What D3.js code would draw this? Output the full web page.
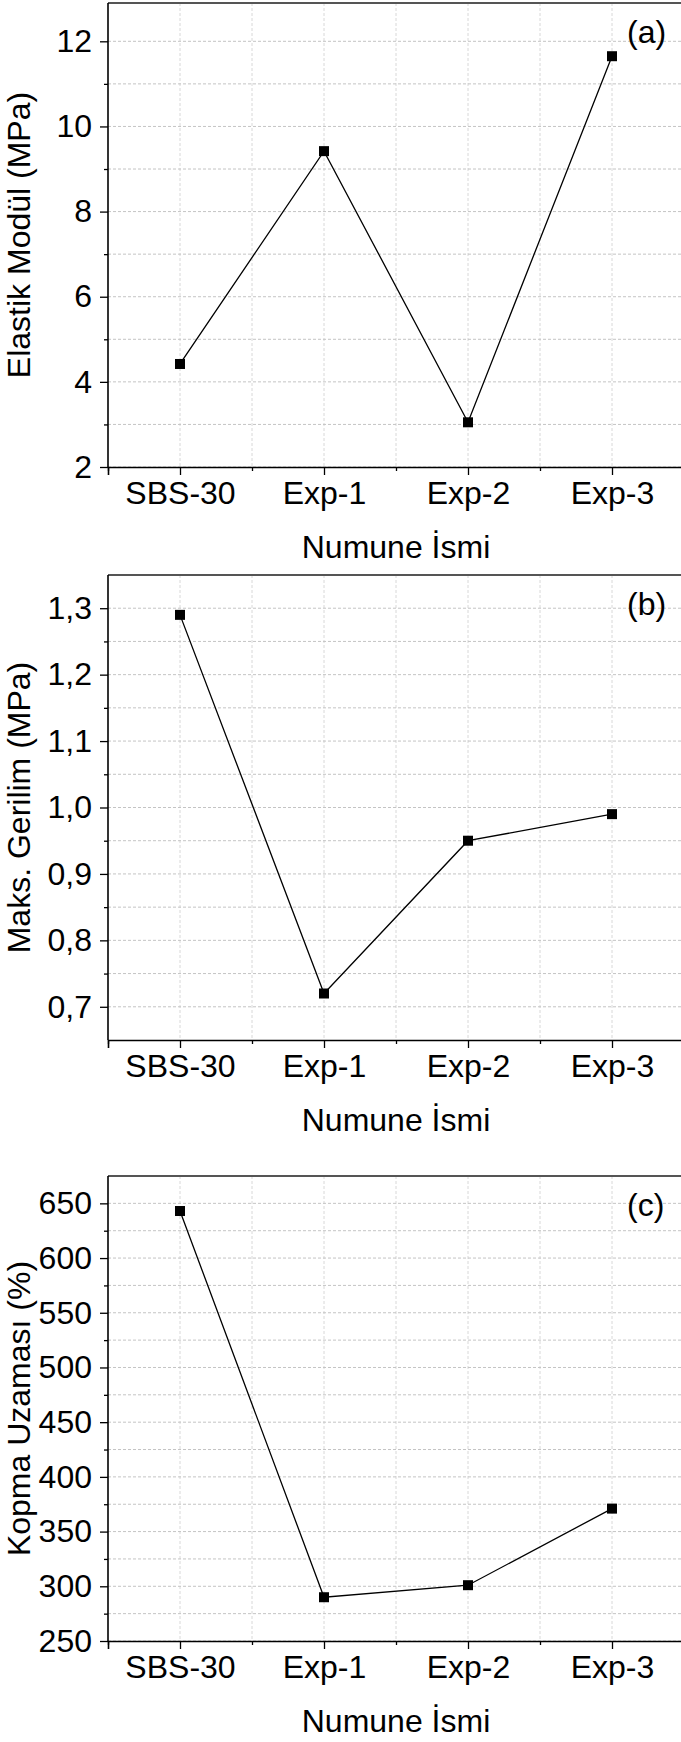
<!DOCTYPE html>
<html>
  <head>
    <meta charset="utf-8">
    <title>Numune özellikleri</title>
    <style>
      body { margin: 0; background: #fff; }
      text { font-family: "Liberation Sans", Arial, sans-serif; fill: #000; }
    </style>
  </head>
  <body>
    <div id="vis"></div>
    <script src="https://d3js.org/d3.v7.min.js"></script>
    <script>
    // sample names on the x axis
    let samples = ["SBS-30", "Exp-1", "Exp-2", "Exp-3"];

    // panel (a) elastic modulus, MPa
    let elastik = [4.42, 9.42, 3.05, 11.65];
    let elastikTicks = [2, 4, 6, 8, 10, 12];
    let elastikMinor = [3, 5, 7, 9, 11];

    // panel (b) max stress, MPa
    let gerilim = [1.29, 0.72, 0.95, 0.99];
    let gerilimTicks = [0.7, 0.8, 0.9, 1.0, 1.1, 1.2, 1.3];
    let gerilimMinor = [0.75, 0.85, 0.95, 1.05, 1.15, 1.25];

    // panel (c) elongation at break, %
    let uzama = [643, 290, 301, 371];
    let uzamaTicks = [250, 300, 350, 400, 450, 500, 550, 600, 650];
    let uzamaMinor = [275, 325, 375, 425, 475, 525, 575, 625];

    let w = 681, h = 1742;
    let left = 108, right = 684;

    let svg = d3.select("#vis").append("svg")
                .attr("width", w)
                .attr("height", h);

    let x = d3.scaleLinear().domain([0.5, 4.5]).range([left, right]);
    let xMajor = [1, 2, 3, 4];
    let xMinor = [0.5, 1.5, 2.5, 3.5, 4.5];

    let comma = function(d) { return d3.format(".1f")(d).replace(".", ","); };

    let panels = [
      { top: 3, bottom: 467, domain: [2, 12.9], values: elastik, ticks: elastikTicks, minor: elastikMinor,
        fmt: d3.format("d"), ylabel: "Elastik Modül (MPa)", tag: "(a)" },
      { top: 575, bottom: 1040, domain: [0.65, 1.35], values: gerilim, ticks: gerilimTicks, minor: gerilimMinor,
        fmt: comma, ylabel: "Maks. Gerilim (MPa)", tag: "(b)" },
      { top: 1176, bottom: 1641, domain: [250, 675], values: uzama, ticks: uzamaTicks, minor: uzamaMinor,
        fmt: d3.format("d"), ylabel: "Kopma Uzaması (%)", tag: "(c)" }
    ];

    panels.forEach(function(p) {
      let y = d3.scaleLinear().domain(p.domain).range([p.bottom, p.top]);
      let g = svg.append("g");

      // vertical grid
      g.selectAll(".vgrid")
        .data(xMajor.concat(xMinor.slice(1)))
        .enter().append("line")
        .attr("x1", function(d) { return x(d); })
        .attr("x2", function(d) { return x(d); })
        .attr("y1", p.top)
        .attr("y2", p.bottom)
        .style("stroke", "#d8d8d8")
        .style("stroke-width", 1)
        .style("stroke-dasharray", "3,2");

      // horizontal grid
      g.selectAll(".hgrid")
        .data(p.ticks.concat(p.minor))
        .enter().append("line")
        .attr("x1", left)
        .attr("x2", right)
        .attr("y1", function(d) { return y(d); })
        .attr("y2", function(d) { return y(d); })
        .style("stroke", "#c4c4c4")
        .style("stroke-width", 1)
        .style("stroke-dasharray", "3,2");

      // top frame
      g.append("line")
        .attr("x1", left).attr("x2", right)
        .attr("y1", p.top).attr("y2", p.top)
        .style("stroke", "#555")
        .style("stroke-width", 2);

      // y axis
      let yAxis = d3.axisLeft(y).tickValues(p.ticks).tickFormat(p.fmt).tickSize(8).tickPadding(8);
      let ya = g.append("g").attr("transform", "translate(" + left + ",0)").call(yAxis);
      let yMinorAxis = d3.axisLeft(y).tickValues(p.minor).tickFormat("").tickSize(4);
      g.append("g").attr("transform", "translate(" + left + ",0)").call(yMinorAxis)
        .select(".domain").remove();
      ya.select(".domain").attr("d", "M0," + p.bottom + "V" + p.top);

      // x axis
      let xAxis = d3.axisBottom(x).tickValues(xMajor)
                    .tickFormat(function(d) { return samples[d - 1]; })
                    .tickSize(8).tickPadding(6);
      let xa = g.append("g").attr("transform", "translate(0," + p.bottom + ")").call(xAxis);
      let xMinorAxis = d3.axisBottom(x).tickValues(xMinor).tickFormat("").tickSize(4);
      g.append("g").attr("transform", "translate(0," + p.bottom + ")").call(xMinorAxis)
        .select(".domain").remove();

      g.selectAll(".domain").style("stroke", "#000").style("stroke-width", 1.6);
      g.selectAll(".tick line").style("stroke", "#000").style("stroke-width", 1.3);
      g.selectAll(".tick text").style("font-size", "32px").style("fill", "#000")
        .style("font-family", "'Liberation Sans', Arial, sans-serif");

      // data line
      let line = d3.line()
                   .x(function(d, i) { return x(i + 1); })
                   .y(function(d) { return y(d); });
      g.append("path")
        .datum(p.values)
        .attr("d", line)
        .style("fill", "none")
        .style("stroke", "#000")
        .style("stroke-width", 1.3);

      g.selectAll(".pt")
        .data(p.values)
        .enter().append("rect")
        .attr("x", function(d, i) { return x(i + 1) - 5; })
        .attr("y", function(d) { return y(d) - 5; })
        .attr("width", 10)
        .attr("height", 10)
        .style("fill", "#000");

      // axis titles
      g.append("text")
        .attr("transform", "translate(30," + ((p.top + p.bottom) / 2) + ") rotate(-90)")
        .attr("text-anchor", "middle")
        .style("font-size", "32px")
        .text(p.ylabel);

      g.append("text")
        .attr("x", (left + right) / 2)
        .attr("y", p.bottom + 91)
        .attr("text-anchor", "middle")
        .style("font-size", "32px")
        .text("Numune İsmi");

      g.append("text")
        .attr("x", 627)
        .attr("y", p.top + 40)
        .style("font-size", "32px")
        .text(p.tag);
    });
    </script>
  </body>
</html>
